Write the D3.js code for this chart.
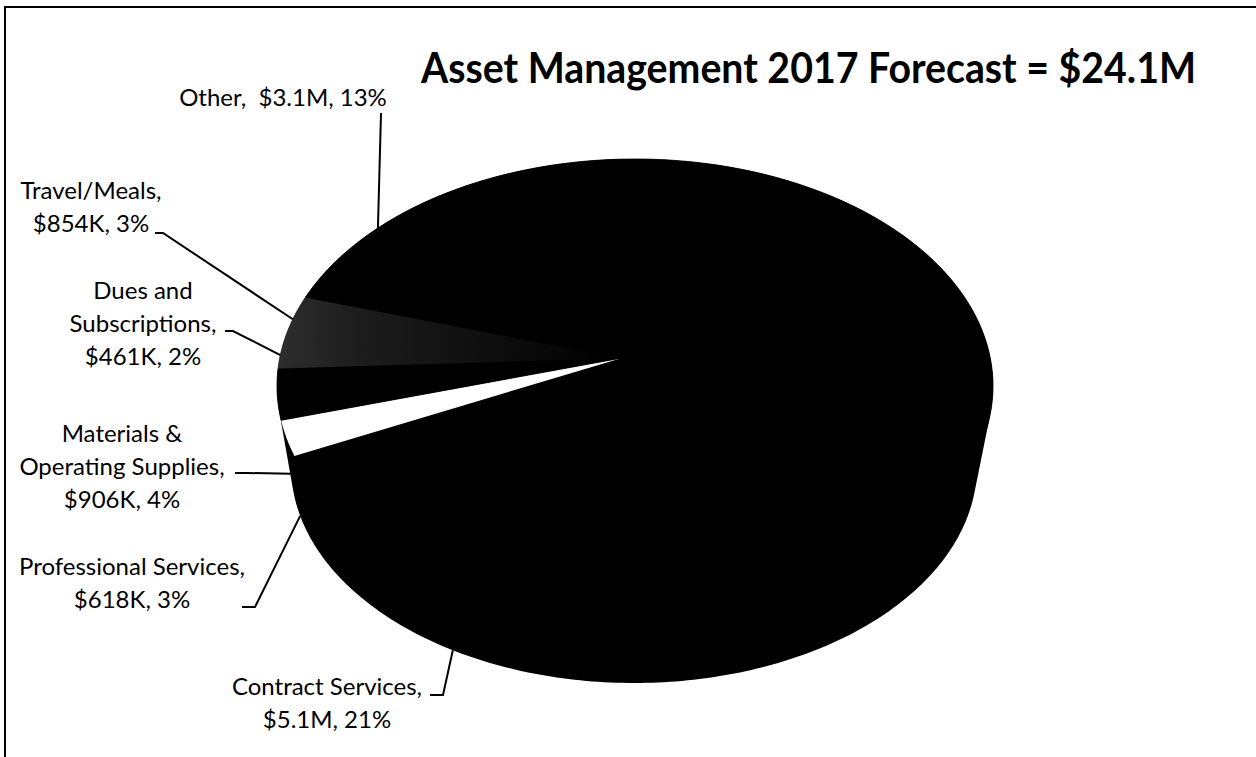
<!DOCTYPE html>
<html><head><meta charset="utf-8">
<script src="https://cdn.jsdelivr.net/npm/d3@7"></script>
<style>
html,body{margin:0;padding:0;background:#fff;}
svg{display:block;}
text{font-family:Lato,"Open Sans",sans-serif;fill:#000;white-space:pre;}
</style></head><body>
<svg id="chart" width="1256" height="757"></svg>
<script>
// Asset Management 2017 forecast by expense category, in $M, clockwise order
const categories = ["(unlabeled)", "Contract Services", "Professional Services",
  "Materials & Operating Supplies", "Dues and Subscriptions", "Travel/Meals", "Other"];
const values = [13.061, 5.1, 0.618, 0.906, 0.461, 0.854, 3.1];
const labelText = [
  null,
  ["Contract Services,", "$5.1M, 21%"],
  ["Professional Services,", "$618K, 3%"],
  ["Materials &", "Operating Supplies,", "$906K, 4%"],
  ["Dues and", "Subscriptions,", "$461K, 2%"],
  ["Travel/Meals,", "$854K, 3%"],
  ["Other,  $3.1M, 13%"]
];
const titleText = "Asset Management 2017 Forecast = $24.1M";

// styling / layout
const sliceFill = ["#000", "#000", "#fff", "#000", "url(#shade)", "url(#shade)", "#000"];
const labelPos = [
  null,
  {x: 327, y: 695, lead: [[430, 695], [443, 695]]},
  {x: 132, y: 575, lead: [[242, 607], [255, 607]]},
  {x: 122, y: 442, lead: [[235, 473], [248, 473]]},
  {x: 143, y: 299, lead: [[225, 331], [233, 331]]},
  {x: 91,  y: 199, lead: [[155, 233], [163, 233]]},
  {x: 283, y: 106, lead: [[381, 113]]}
];
const lineGap = 33;

const svg = d3.select("#chart");
const defs = svg.append("defs");
const grad = defs.append("linearGradient").attr("id", "shade")
  .attr("gradientUnits", "userSpaceOnUse")
  .attr("x1", 276).attr("y1", 0).attr("x2", 622).attr("y2", 0);
grad.append("stop").attr("offset", 0).attr("stop-color", "#2e2e2e");
grad.append("stop").attr("offset", 0.25).attr("stop-color", "#1c1c1c");
grad.append("stop").attr("offset", 0.8).attr("stop-color", "#070707");
grad.append("stop").attr("offset", 1).attr("stop-color", "#000");

// frame
svg.append("path").attr("d", "M5,757V7H1256").attr("fill", "none")
  .attr("stroke", "#000").attr("stroke-width", 2);

// title
svg.append("text").attr("x", 421).attr("y", 83)
  .attr("font-size", 42).attr("font-weight", 700).text(titleText)
  .attr("textLength", 775).attr("lengthAdjust", "spacingAndGlyphs");

// tilted pie: top face, bottom face and hub in screen space
const topFace = {cx: 635, cy: 386, rx: 358, ry: 227};
const botFace = {cx: 634, cy: 466, rx: 343, ry: 217};
const hub = [622, 358];
const pn = [(hub[0] - topFace.cx) / topFace.rx, (hub[1] - topFace.cy) / topFace.ry];
const beta = Math.hypot(pn[0], pn[1]);
const dir = [pn[0] / beta, pn[1] / beta];
const gam = Math.sqrt(1 - beta * beta);

// projective map of the unit disk onto itself that moves the centre towards the far side
function tilt(u, v) {
  const par = u * dir[0] + v * dir[1];
  const perp = [u - par * dir[0], v - par * dir[1]];
  const den = 1 + beta * par;
  const np = (par + beta) / den;
  return [np * dir[0] + perp[0] * gam / den, np * dir[1] + perp[1] * gam / den];
}
function project(face, a, r = 1) {
  const t = tilt(r * Math.sin(a), -r * Math.cos(a));
  return [face.cx + t[0] * face.rx, face.cy + t[1] * face.ry];
}

const start = -26.6 * Math.PI / 180;
const pie = d3.pie().sort(null).startAngle(start).endAngle(start + 2 * Math.PI);
const arcs = pie(values);
const line = d3.line();

function ellipsePts(f, n) {
  return d3.range(n).map(i => {
    const a = 2 * Math.PI * i / n;
    return [f.cx + f.rx * Math.cos(a), f.cy + f.ry * Math.sin(a)];
  });
}
// body of the pie: hull of the top and bottom faces
const body = d3.polygonHull(ellipsePts(topFace, 360).concat(ellipsePts(botFace, 360)));
svg.append("path").attr("d", line(body) + "Z").attr("fill", "#000");

// top face slices
const slicePath = d => {
  const n = Math.max(4, Math.ceil((d.endAngle - d.startAngle) / 0.01));
  const pts = [project(topFace, 0, 0)];
  for (let i = 0; i <= n; i++) pts.push(project(topFace, d.startAngle + (d.endAngle - d.startAngle) * i / n));
  return line(pts) + "Z";
};
svg.append("g").selectAll("path").data(arcs).join("path")
  .attr("d", slicePath)
  .attr("fill", (d, i) => sliceFill[i])
  .attr("stroke", (d, i) => sliceFill[i] === "#fff" ? "none" : sliceFill[i])
  .attr("stroke-width", 0.8)
  .attr("stroke-linejoin", "round");

// labels and leader lines
const lab = svg.append("g");
arcs.forEach((d, i) => {
  if (!labelText[i]) return;
  const pos = labelPos[i];
  const mid = (d.startAngle + d.endAngle) / 2;
  const m = ((mid % (2 * Math.PI)) + 2 * Math.PI) % (2 * Math.PI);
  const front = m > Math.PI / 2 && m < 1.5 * Math.PI;
  const end = project(front ? botFace : topFace, mid);
  lab.append("path").attr("d", line(pos.lead.concat([end])))
    .attr("fill", "none").attr("stroke", "#000").attr("stroke-width", 2);
  const t = lab.append("text").attr("text-anchor", "middle").attr("font-size", 24);
  labelText[i].forEach((s, k) => {
    t.append("tspan").attr("x", pos.x).attr("y", pos.y + k * lineGap).text(s);
  });
});
</script>
</body></html>
